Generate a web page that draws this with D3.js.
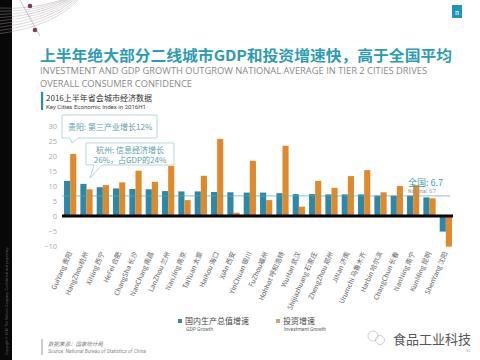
<!DOCTYPE html>
<html><head><meta charset="utf-8">
<script src="https://cdnjs.cloudflare.com/ajax/libs/d3/7.8.5/d3.min.js"></script>
<style>body{margin:0;background:#fff}svg{display:block}</style>
</head><body><svg id="c" width="480" height="360"></svg>
<script>
const cities = ["GuiYang 贵阳","HangZhou杭州","XiNing 西宁","HeFei 合肥","ChangSha 长沙","NanChang 南昌","LanZhou 兰州","NanJing 南京","TaiYuan 太原","HaiKou 海口","XiAn 西安","YinChuan 银川","FuZhou福州","Hohhot 呼和浩特","WuHan 武汉","Shijiazhuang 石家庄","ZhengZhou 郑州","JiNan 济南","Urumchi 乌鲁木齐","Harbin 哈尔滨","ChangChun 长春","NanNing 南宁","KunMing 昆明","ShenYang 沈阳"];
const gdpGrowth = [11.7,10.7,9.6,9.2,9.0,8.9,8.3,8.2,8.2,8.0,7.9,7.8,7.8,7.6,7.3,7.3,7.2,7.2,7.2,6.8,6.8,6.8,6.2,-5.2];
const investGrowth = [20.7,8.9,10.3,11.2,15.1,11.4,16.7,5.3,13.4,25.7,1.1,18.4,5.3,23.4,3.1,11.7,9.4,13.3,15.3,7.9,10.0,10.3,5.9,-10.2];
const yTicks = [30,25,20,15,10,5,0,-5,-10];
const nationalGDP = 6.7;
const seriesNames = ["国内生产总值增速","投资增速"];
const seriesNamesEn = ["GDP Growth","Investment Growth"];

const svg = d3.select("#c");
const CJK = "'Noto Sans CJK SC','Noto Sans',sans-serif";
const TEAL = "#2b88a9", ORANGE = "#e0892a";

// left strip and decoration
svg.append("rect").attr("x",0).attr("y",0).attr("width",12).attr("height",360).attr("fill","#080808");
const deco = svg.append("g");
for (let i=0;i<9;i++){
  deco.append("path").attr("d",`M0,${8+i*3.2} Q${30+i*3},${10+i*2} ${62+i*2},0`)
    .attr("fill","none").attr("stroke", i%3===0?"#b58aa8":"#aaa").attr("stroke-width",0.5).attr("opacity",0.8);
}
deco.append("line").attr("x1",20).attr("y1",0).attr("x2",40).attr("y2",36).attr("stroke","#999").attr("stroke-width",0.5);
deco.append("circle").attr("cx",30).attr("cy",6).attr("r",2.3).attr("fill","#7a3a68");
deco.append("circle").attr("cx",35).attr("cy",30).attr("r",2.3).attr("fill","#8a3a5a");
svg.append("text").attr("transform","translate(8,355) rotate(-90)").attr("font-size",3.5).attr("fill","#666")
  .attr("font-family","sans-serif").text("Copyright © 2016 The Nielsen Company. Confidential and proprietary.");

// logo
svg.append("rect").attr("x",452).attr("y",5).attr("width",10).attr("height",13).attr("fill","#1f93b8");
svg.append("text").attr("x",457).attr("y",15).attr("text-anchor","middle").attr("font-size",8).attr("fill","#fff")
  .attr("font-family","serif").text("n");

// titles
svg.append("text").attr("x",40).attr("y",61).attr("font-size",14.5).attr("font-weight","bold").attr("fill","#2a9cb3")
  .attr("font-family",CJK).attr("textLength",412).attr("lengthAdjust","spacingAndGlyphs")
  .text("上半年绝大部分二线城市GDP和投资增速快，高于全国平均");
svg.append("text").attr("x",40).attr("y",74).attr("font-size",8.5).attr("fill","#8a8a8a")
  .attr("font-family","'Open Sans',sans-serif").attr("textLength",387).attr("lengthAdjust","spacingAndGlyphs")
  .text("INVESTMENT AND GDP GROWTH OUTGROW  NATIONAL AVERAGE IN TIER 2 CITIES DRIVES");
svg.append("text").attr("x",40).attr("y",87).attr("font-size",8.5).attr("fill","#8a8a8a")
  .attr("font-family","'Open Sans',sans-serif").attr("textLength",152).attr("lengthAdjust","spacingAndGlyphs")
  .text("OVERALL CONSUMER CONFIDENCE");
svg.append("rect").attr("x",41).attr("y",92).attr("width",2.2).attr("height",18).attr("fill","#2a8fb0");
svg.append("text").attr("x",46).attr("y",101).attr("font-size",7.5).attr("fill","#333").attr("font-family",CJK)
  .attr("textLength",106).attr("lengthAdjust","spacingAndGlyphs").text("2016上半年省会城市经济数据");
svg.append("text").attr("x",46).attr("y",108.5).attr("font-size",4.5).attr("fill","#444").attr("font-family","Roboto,sans-serif")
  .attr("textLength",100).attr("lengthAdjust","spacingAndGlyphs").text("Key Cities Economic Index in 2016H1");

// scales
const x = d3.scaleBand().domain(cities).range([62,454]).paddingInner(0.25).paddingOuter(0.125);
const xs = d3.scaleBand().domain([0,1]).range([0,x.bandwidth()]);
const y = d3.scaleLinear().domain([-10,30]).range([246,126]);

// y axis
const yAxis = d3.axisLeft(y).tickValues(yTicks).tickSize(0).tickPadding(0);
const ya = svg.append("g").attr("transform","translate(57,0)").call(yAxis);
ya.select(".domain").remove();
ya.selectAll("text").attr("font-size",7.5).attr("fill","#aaa").attr("font-family","'Open Sans',sans-serif");

// bars
const g = svg.append("g");
const vals = [gdpGrowth, investGrowth];
const cols = [TEAL, ORANGE];
vals.forEach((arr,si)=>{
  g.selectAll(null).data(cities).enter().append("rect")
    .attr("x",d=>x(d)+xs(si)).attr("width",xs.bandwidth())
    .attr("y",(d,i)=>y(Math.max(0,arr[i])))
    .attr("height",(d,i)=>Math.abs(y(arr[i])-y(0)))
    .attr("fill",cols[si]);
});

// national line
svg.append("line").attr("x1",62).attr("x2",450).attr("y1",y(nationalGDP)).attr("y2",y(nationalGDP))
  .attr("stroke","#5aaab0").attr("stroke-width",0.7);
svg.append("text").attr("x",408).attr("y",y(nationalGDP)-10).attr("font-size",9).attr("fill","#45a3a8")
  .attr("font-family",CJK).text("全国: "+nationalGDP);
svg.append("text").attr("x",408).attr("y",y(nationalGDP)-3).attr("font-size",5).attr("fill","#999")
  .attr("font-family","Roboto,sans-serif").text("National: "+nationalGDP);

// zero line
svg.append("line").attr("x1",62).attr("x2",453).attr("y1",y(0)).attr("y2",y(0)).attr("stroke","#000").attr("stroke-width",3);

// x labels
const xl = svg.append("g");
xl.selectAll("text").data(cities).enter().append("text")
  .attr("transform",d=>`translate(${x(d)+x.bandwidth()/2+2},253) rotate(-66)`)
  .attr("text-anchor","end").attr("font-size",6.8).attr("fill","#666").attr("font-family",CJK)
  .text(d=>d);

// callouts
function callout(x0,y0,w,h,tx,ty,tipX,tipY,lines){
  const cg = svg.append("g");
  cg.append("path").attr("d",`M${x0},${y0} H${x0+w} V${y0+h} H${tx+8} L${tipX},${tipY} L${tx},${y0+h} H${x0} Z`)
    .attr("fill","rgba(255,255,255,0.92)").attr("stroke","#9cc4c8").attr("stroke-width",0.7);
  lines.forEach((l,i)=>{
    cg.append("text").attr("x",l.x).attr("y",l.y).attr("font-size",8).attr("fill","#5a9ea8")
      .attr("font-family",CJK).attr("text-anchor",l.anchor||"start").text(l.t);
  });
}
callout(62,115,95,23,70,0,72,143,[{x:68,y:130,t:"贵阳: 第三产业增长12%"}]);
callout(86,143,88,22,94,0,90,178,[{x:130,y:153,t:"杭州: 信息经济增长",anchor:"middle"},{x:130,y:162.5,t:"26%，占GDP的24%",anchor:"middle"}]);

// legend
[0,1].forEach(i=>{
  const lx = [178,276][i];
  svg.append("rect").attr("x",lx).attr("y",319).attr("width",4).attr("height",4).attr("fill",i?"#c9a96e":"#3a8a9a");
  svg.append("text").attr("x",lx+7).attr("y",324).attr("font-size",8).attr("fill","#444").attr("font-family",CJK).text(seriesNames[i]);
  svg.append("text").attr("x",lx+8).attr("y",331).attr("font-size",5).attr("fill","#666").attr("font-family","Roboto,sans-serif").text(seriesNamesEn[i]);
});

// source
svg.append("rect").attr("x",41).attr("y",339).attr("width",2).attr("height",16).attr("fill","#ccc");
svg.append("text").attr("x",48).attr("y",346).attr("font-size",5.5).attr("font-style","italic").attr("fill","#777").attr("font-family",CJK).text("数据来源：国家统计局");
svg.append("text").attr("x",48).attr("y",353).attr("font-size",4.5).attr("font-style","italic").attr("fill","#888").attr("font-family","Roboto,sans-serif")
  .attr("textLength",98).attr("lengthAdjust","spacingAndGlyphs").text("Source: National Bureau of Statistics of China");

// watermark
svg.append("circle").attr("cx",373).attr("cy",336).attr("r",5).attr("fill","none").attr("stroke","#bbb").attr("stroke-width",0.7);
svg.append("circle").attr("cx",380).attr("cy",340).attr("r",4.5).attr("fill","none").attr("stroke","#bbb").attr("stroke-width",0.7);
svg.append("text").attr("x",393).attr("y",344).attr("font-size",13).attr("fill","#555").attr("font-family",CJK).text("食品工业科技");
svg.append("text").attr("x",466).attr("y",352).attr("font-size",4).attr("fill","#999").attr("font-family","sans-serif").text("35");
</script></body></html>
